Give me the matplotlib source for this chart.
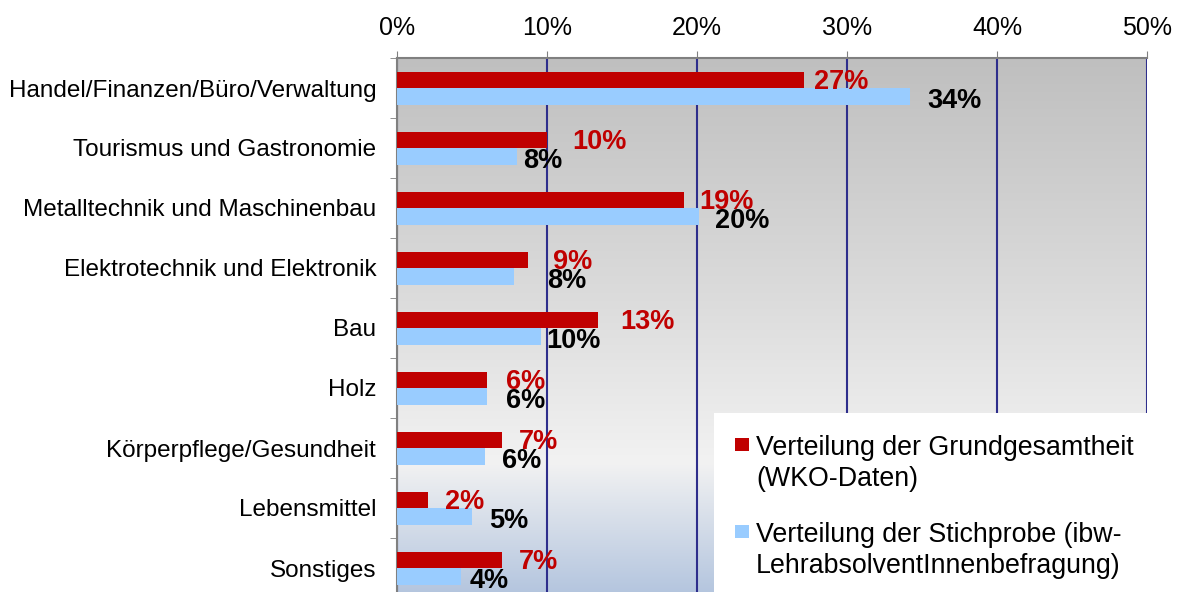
import numpy as np
import matplotlib.pyplot as plt
from matplotlib.colors import LinearSegmentedColormap
from matplotlib.patches import Rectangle

plt.rcParams['font.family'] = ['Liberation Sans', 'DejaVu Sans']

categories = ['Handel/Finanzen/Büro/Verwaltung', 'Tourismus und Gastronomie',
              'Metalltechnik und Maschinenbau', 'Elektrotechnik und Elektronik',
              'Bau', 'Holz', 'Körperpflege/Gesundheit', 'Lebensmittel', 'Sonstiges']
grund = [27.1, 10.0, 19.1, 8.7, 13.4, 6.0, 7.0, 2.1, 7.0]
stich = [34.2, 8.0, 20.1, 7.8, 9.6, 6.0, 5.9, 5.0, 4.3]
grund_labels = ['27%', '10%', '19%', '9%', '13%', '6%', '7%', '2%', '7%']
stich_labels = ['34%', '8%', '20%', '8%', '10%', '6%', '6%', '5%', '4%']
legend_labels = ['Verteilung der Grundgesamtheit\n(WKO-Daten)',
                 'Verteilung der Stichprobe (ibw-\nLehrabsolventInnenbefragung)']

# labels were moved by hand in the original, shift in percent points
grund_shift = [0.67, 1.67, 1.07, 1.67, 1.47, 1.27, 1.13, 1.13, 1.13]
stich_shift = [1.13, 0.4, 1.13, 2.2, 0.33, 1.27, 1.13, 1.13, 0.53]

red = '#C00000'
blue = '#99CCFF'
navy = '#2E2E8C'

W, H = 1181, 592
fig = plt.figure(figsize=(W / 100, H / 100), dpi=100)
ax = fig.add_axes([397 / W, -6 / H, 750 / W, 540 / H])

# background gradient of the plot area
bg = LinearSegmentedColormap.from_list('bg', [(0, '#BFBFBF'), (0.45, '#DCDCDC'),
                                              (0.75, '#F2F2F2'), (1, '#B2C4DE')])
grad = np.linspace(0, 1, 256).reshape(-1, 1)
ax.imshow(grad, cmap=bg, aspect='auto', extent=[0, 1, 0, 1], origin='upper',
          transform=ax.transAxes, zorder=0)

y = np.arange(len(categories))
h = 0.275
ax.barh(y - h / 2, grund, height=h, color=red, zorder=3)
ax.barh(y + h / 2, stich, height=h, color=blue, zorder=3)

for i in range(len(categories)):
    ax.text(grund[i] + grund_shift[i], y[i] - h / 2 + 0.03, grund_labels[i],
            color=red, fontsize=19.5, fontweight='bold', va='center', ha='left', zorder=4)
    ax.text(stich[i] + stich_shift[i], y[i] + h / 2 + 0.08, stich_labels[i],
            color='black', fontsize=19.5, fontweight='bold', va='center', ha='left', zorder=4)

ax.set_xlim(0, 50)
ax.set_ylim(len(categories) - 0.5, -0.5)
ax.xaxis.tick_top()
ax.set_xticks(np.arange(0, 51, 10))
ax.set_xticklabels([f'{v}%' for v in range(0, 51, 10)])
ax.tick_params(axis='x', length=5, color='#808080', pad=8, labelsize=18)
ax.set_yticks(y)
ax.set_yticklabels(categories)
ax.tick_params(axis='y', length=0, pad=15, labelsize=17.5)
ax.set_yticks(np.arange(-0.5, len(categories)), minor=True)
ax.tick_params(axis='y', which='minor', length=5, color='#808080')
ax.grid(axis='x', color=navy, linewidth=1.5, zorder=1)
ax.set_axisbelow(True)
for side in ['right', 'bottom']:
    ax.spines[side].set_visible(False)
for side in ['left', 'top']:
    ax.spines[side].set_color('#808080')
    ax.spines[side].set_linewidth(1.5)

# legend on a white box in the lower right corner, square next to the first line
fig.add_artist(Rectangle((714 / W, 0), 467 / W, 179 / H, transform=fig.transFigure,
                         facecolor='white', edgecolor='none', zorder=5))
for k, (lab, col) in enumerate(zip(legend_labels, [red, blue])):
    base = 456 + 87 * k
    fig.add_artist(Rectangle((735 / W, 1 - (base - 5) / H), 14 / W, 13 / H,
                             transform=fig.transFigure, facecolor=col, edgecolor='none', zorder=6))
    fig.text(756 / W, 1 - (base + 30) / H, lab, fontsize=19.3, va='baseline', ha='left',
             linespacing=1.25, zorder=6)

fig.savefig('out.png', dpi=100)
